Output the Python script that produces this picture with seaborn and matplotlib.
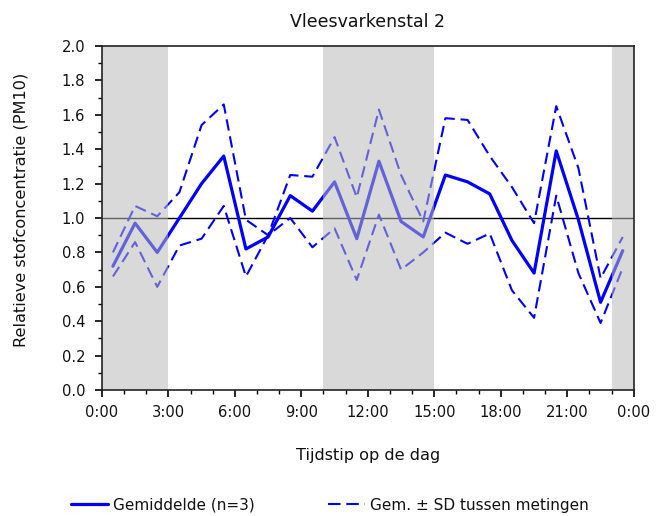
import numpy as np
import pandas as pd
import matplotlib
matplotlib.use("Agg")
import matplotlib.pyplot as plt
import seaborn as sns
from matplotlib.ticker import MultipleLocator, FixedLocator, FixedFormatter, FormatStrFormatter

# Hour of day (measurement midpoints)
hours = [0.5, 1.5, 2.5, 3.5, 4.5, 5.5, 6.5, 7.5, 8.5, 9.5, 10.5, 11.5,
         12.5, 13.5, 14.5, 15.5, 16.5, 17.5, 18.5, 19.5, 20.5, 21.5, 22.5, 23.5]

# Relative dust concentration, mean of 3 measurements
mean_vals = [0.72, 0.97, 0.80, 1.00, 1.20, 1.36, 0.82, 0.89, 1.13, 1.04, 1.21, 0.88,
             1.33, 0.98, 0.89, 1.25, 1.21, 1.14, 0.87, 0.68, 1.39, 0.99, 0.51, 0.81]

# Mean + SD and mean - SD between measurements
upper_vals = [0.80, 1.07, 1.01, 1.15, 1.54, 1.66, 0.99, 0.90, 1.25, 1.24, 1.47, 1.12,
              1.63, 1.25, 0.98, 1.58, 1.57, 1.36, 1.18, 0.97, 1.65, 1.29, 0.65, 0.89]
lower_vals = [0.66, 0.86, 0.60, 0.84, 0.88, 1.07, 0.66, 0.90, 1.00, 0.83, 0.94, 0.64,
              1.02, 0.70, 0.80, 0.915, 0.85, 0.91, 0.58, 0.42, 1.13, 0.68, 0.39, 0.71]

# Shaded periods (hours)
shade_periods = [(0, 3), (10, 15), (23, 24)]

x_ticks = [0, 3, 6, 9, 12, 15, 18, 21, 24]
x_ticklabels = ["0:00", "3:00", "6:00", "9:00", "12:00", "15:00", "18:00", "21:00", "0:00"]

title = "Vleesvarkenstal 2"
ylabel = "Relatieve stofconcentratie (PM10)"
xlabel = "Tijdstip op de dag"
label_mean = "Gemiddelde (n=3)"
label_sd = "Gem. \u00b1 SD tussen metingen"

df = pd.DataFrame({"uur": hours, "gemiddelde": mean_vals,
                   "boven": upper_vals, "onder": lower_vals})

sns.set_style("ticks")
plt.rcParams["font.family"] = ["DejaVu Sans"]

fig = plt.figure(figsize=(6.7, 5.16), dpi=100)
ax = fig.add_axes([0.152, 0.244, 0.794, 0.667])

blue = "#0000ff"
dash = (5.5, 2.8)
sns.lineplot(data=df, x="uur", y="gemiddelde", ax=ax, color=blue, lw=2.3,
             label=label_mean, zorder=2)
sns.lineplot(data=df, x="uur", y="boven", ax=ax, color=blue, lw=1.5,
             label=label_sd, zorder=2)
sns.lineplot(data=df, x="uur", y="onder", ax=ax, color=blue, lw=1.5, zorder=2)
for ln in ax.lines[1:3]:
    ln.set_dashes(dash)

ax.axhline(1.0, color="black", lw=1.0, zorder=1.5)

# Translucent grey overlay for the shaded periods
for a, b in shade_periods:
    ax.axvspan(a, b, color="#b9b9b9", alpha=0.54, lw=0, zorder=3)

ax.set_xlim(0, 24)
ax.set_ylim(0, 2.0)
ax.xaxis.set_major_locator(FixedLocator(x_ticks))
ax.xaxis.set_major_formatter(FixedFormatter(x_ticklabels))
ax.xaxis.set_minor_locator(MultipleLocator(1))
ax.yaxis.set_major_locator(MultipleLocator(0.2))
ax.yaxis.set_minor_locator(MultipleLocator(0.1))
ax.yaxis.set_major_formatter(FormatStrFormatter("%.1f"))

ax.tick_params(which="major", direction="out", length=5, width=1.2,
               labelsize=10.6, color="black", labelcolor="#111111")
ax.tick_params(axis="x", which="major", pad=6)
ax.tick_params(axis="y", which="major", pad=7)
ax.tick_params(which="minor", direction="out", length=3, width=1.0, color="black")

for side in ["left", "bottom", "top", "right"]:
    ax.spines[side].set_visible(True)
    ax.spines[side].set_color("#222222")
    ax.spines[side].set_linewidth(1.2)
    ax.spines[side].set_zorder(4)

ax.set_title(title, fontsize=12.5, pad=13.5, color="#111111")
ax.set_ylabel(ylabel, fontsize=11.6, color="#111111")
ax.yaxis.set_label_coords(-0.137, 0.525)
ax.set_xlabel(xlabel, fontsize=11.6, labelpad=20, color="#111111")

handles, labels = ax.get_legend_handles_labels()
ax.get_legend().remove()
leg = fig.legend(handles, labels, loc="center left", bbox_to_anchor=(71 / 670, 0.021),
                 ncol=2, frameon=False, fontsize=11, handlelength=2.42,
                 handletextpad=0.3, columnspacing=4.85, borderpad=0, borderaxespad=0)
for txt in leg.get_texts():
    txt.set_color("#111111")
# three whole dashes in the legend key
leg.get_lines()[1].set_dashes((6.0, 2.8))

fig.savefig("out.png", dpi=100)
